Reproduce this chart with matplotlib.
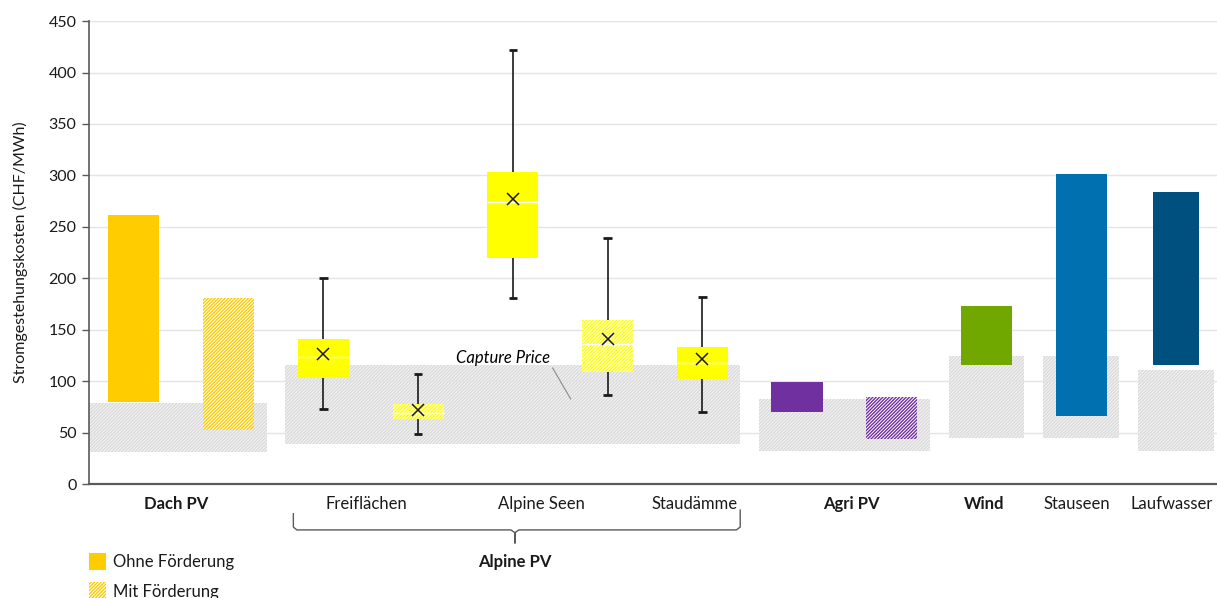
import matplotlib
matplotlib.use("Agg")
import matplotlib.pyplot as plt
from matplotlib.patches import Rectangle

plt.rcParams["font.family"] = ["Lato", "DejaVu Sans"]
plt.rcParams["hatch.linewidth"] = 1.0

# ── Data ─────────────────────────────────────────────────────────────────────
# capture price bands (one per technology group)
capture_groups = ["Dach PV", "Alpine PV", "Agri PV", "Wind", "Stauseen", "Laufwasser"]
capture_low = [31, 39, 32, 45, 45, 32]
capture_high = [79, 116, 83, 125, 125, 111]

# floating range bars (low..high)
range_names = ["Dach PV", "Dach PV mit", "Agri PV", "Agri PV mit", "Wind", "Stauseen", "Laufwasser"]
range_low = [80, 53, 70, 44, 115.5, 66, 115.5]
range_high = [262, 181, 99.5, 85, 173, 301, 284]

# Alpine PV box plots
box_names = ["Freiflächen", "Freiflächen mit", "Alpine Seen", "Alpine Seen mit", "Staudämme"]
box_min = [73.5, 48.5, 181, 86.5, 70]
box_q1 = [103.5, 63, 220, 109.5, 102.5]
box_median = [123.5, 69, 274, 136, 117.5]
box_q3 = [141.5, 78.5, 303, 160, 133]
box_max = [200, 107, 422, 239, 182]
box_mean = [126.5, 72, 277, 141, 121.5]

cat_labels = ["Dach PV", "Freiflächen", "Alpine Seen", "Staudämme", "Agri PV", "Wind", "Stauseen", "Laufwasser"]
cat_bold = [True, False, False, False, True, True, False, False]

# ── Layout / styles ──────────────────────────────────────────────────────────
range_slots = [0, 1, 7, 8, 9, 10, 11]
range_colors = ["#FFCC00", "#FFCC00", "#7030A0", "#7030A0", "#70A800", "#0070B0", "#00507F"]
range_hatched = [False, True, False, True, False, False, False]
range_width = [0.54, 0.54, 0.54, 0.54, 0.53, 0.54, 0.48]
box_slots = [2, 3, 4, 5, 6]
box_hatched = [False, True, False, True, False]
capture_span = [(0, 1), (2, 6), (7, 8), (9, 9), (10, 10), (11, 11)]
cat_pos = [0.45, 2.45, 4.3, 5.92, 7.57, 8.97, 9.95, 10.95]
HATCH = "//////////"

fig = plt.figure(figsize=(12.17, 5.98), dpi=100)
ax = fig.add_axes([0.0731, 0.1901, 0.9269, 0.7747])

# capture price bands
for i, ((a, b), lo, hi) in enumerate(zip(capture_span, capture_low, capture_high)):
    left = a - (0.47 if i == 0 else 0.4)
    right = b + 0.4
    ax.bar(left, hi - lo, width=right - left, bottom=lo, align="edge",
           facecolor="#F5F5F5", edgecolor="#DADADA", hatch=HATCH,
           linewidth=0, zorder=0.3)

# range bars
for x, lo, hi, c, h, w in zip(range_slots, range_low, range_high,
                              range_colors, range_hatched, range_width):
    if h:
        ax.bar(x, hi - lo, width=w, bottom=lo, facecolor="white",
               edgecolor=c, hatch=HATCH, linewidth=0, zorder=2)
    else:
        ax.bar(x, hi - lo, width=w, bottom=lo, color=c, linewidth=0, zorder=2)

# box plots
bw = 0.54
for x, mn, q1, md, q3, mx, mu, h in zip(box_slots, box_min, box_q1, box_median,
                                        box_q3, box_max, box_mean, box_hatched):
    ax.vlines(x, q3, mx, color="#1a1a1a", lw=1.2, zorder=1.5)
    ax.vlines(x, mn, q1, color="#1a1a1a", lw=1.2, zorder=1.5)
    ax.hlines([mn, mx], x - 0.045, x + 0.045, color="#1a1a1a", lw=2, zorder=1.5)
    if h:
        ax.bar(x, q3 - q1, width=bw, bottom=q1, facecolor="white",
               edgecolor="#FFFF00", hatch=HATCH, linewidth=0, zorder=2)
    else:
        ax.bar(x, q3 - q1, width=bw, bottom=q1, color="#FFFF00", linewidth=0, zorder=2)
    ax.hlines(md, x - bw / 2, x + bw / 2, color="white", lw=1, zorder=2.5)
    ax.plot(x, mu, marker="x", ms=8, mew=1.1, color="#1a1a1a", zorder=3)

# capture price annotation
ax.text(3.9, 123, "Capture Price", style="italic", fontsize=12,
        ha="center", va="center", zorder=4)
ax.plot([4.42, 4.61], [113, 83], color="#8c8c8c", lw=0.8, zorder=4)

# axes styling
ax.set_xlim(-0.4745, 11.433)
ax.set_ylim(0, 450)
ax.set_yticks(range(0, 451, 50))
ax.set_xticks([])
ax.grid(axis="y", color="#E4E4E4", lw=1)
ax.set_axisbelow(True)
for s in ["top", "right"]:
    ax.spines[s].set_visible(False)
ax.spines["left"].set_color("#5a5a5a")
ax.spines["left"].set_linewidth(1.2)
ax.spines["bottom"].set_color("#5a5a5a")
ax.spines["bottom"].set_linewidth(1.6)
ax.tick_params(axis="y", length=5, width=1, color="#5a5a5a", labelsize=11.5,
               labelcolor="#1a1a1a", pad=4)
ax.set_ylabel("Stromgestehungskosten (CHF/MWh)", fontsize=11.5, color="#1a1a1a")
ax.yaxis.set_label_coords(-0.054, 0.5)

# category labels under the axis
for x, lab, b in zip(cat_pos, cat_labels, cat_bold):
    ax.text(x, -19, lab, ha="center", va="center", fontsize=12,
            fontweight="bold" if b else "normal", color="#1a1a1a", clip_on=False)

# brace for Alpine PV
bx = [1.683, 1.683, 1.72, 3.98, 4.022, 4.022, 4.022, 4.064, 6.36, 6.40, 6.40]
by = [-28.5, -41.5, -44.3, -44.3, -47, -57, -47, -44.3, -44.3, -41.5, -25]
ax.plot(bx, by, color="#5a5a5a", lw=1, clip_on=False)
ax.text(4.022, -75.5, "Alpine PV", ha="center", va="center", fontsize=12,
        fontweight="bold", color="#1a1a1a", clip_on=False)

# legend
fig.add_artist(Rectangle((89 / 1217, 28 / 598), 17 / 1217, 17 / 598,
                         transform=fig.transFigure, facecolor="#FFCC00", linewidth=0))
fig.add_artist(Rectangle((89 / 1217, -1 / 598), 17 / 1217, 17 / 598,
                         transform=fig.transFigure, facecolor="white",
                         edgecolor="#FFCC00", hatch=HATCH, linewidth=0))
fig.text(113 / 1217, 36 / 598, "Ohne Förderung", fontsize=12, va="center", color="#1a1a1a")
fig.text(113 / 1217, 6 / 598, "Mit Förderung", fontsize=12, va="center", color="#1a1a1a")

fig.savefig("out.png", dpi=100)
plt.close(fig)
